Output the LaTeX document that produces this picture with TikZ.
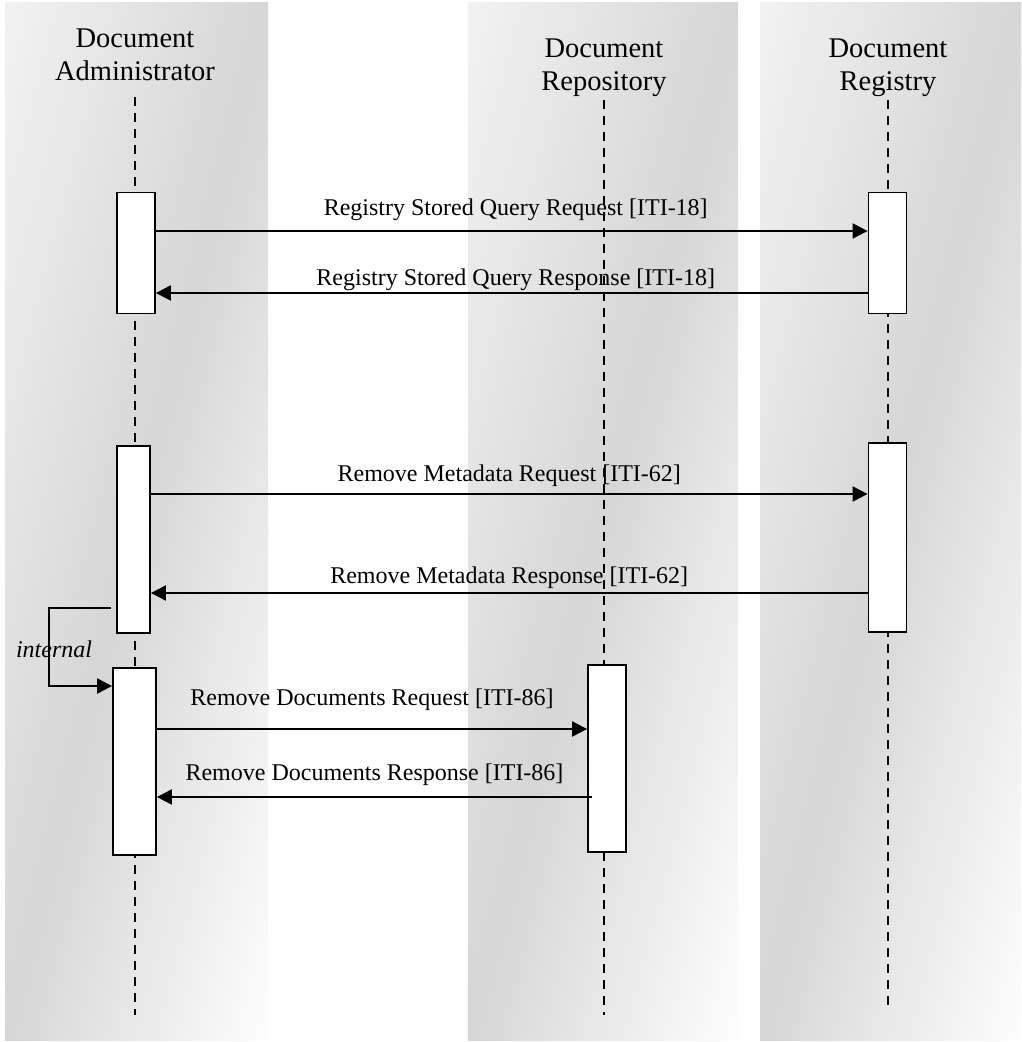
\documentclass[tikz,border=0pt]{standalone}
\usepackage{fontspec}
\setmainfont{Liberation Serif}
\usetikzlibrary{positioning, arrows.meta}
\usetikzlibrary{backgrounds}
\definecolor{colLight}{gray}{0.95}
\definecolor{colDark}{gray}{0.84}
\definecolor{colPale}{gray}{0.995}
\tikzset{
    column/.style={left color=colLight, right color=colPale, middle color=colDark},
    head/.style={align=center, inner sep=0pt, anchor=north, font=\fontsize{14.25}{16.5}\selectfont},
    lifeline/.style={line width=0.7pt, dash pattern=on 4.5pt off 3.5pt},
    act/.style={draw, fill=white, line width=0.9pt, inner sep=0pt, minimum width=19pt},
    msg/.style={line width=1pt, -{Triangle[length=7.5pt,width=7.5pt]}},
    lbl/.style={inner sep=0pt, anchor=base, font=\fontsize{12}{14}\selectfont},
  }

\begin{document}
\begin{tikzpicture}[x=0.5pt, y=-0.5pt]
	\pgfmathsetmacro\lifeend{1015}
	\pgfmathsetmacro\colh{1037}
	\pgfmathsetmacro\colmid{521.5}
	\useasboundingbox (0,0) rectangle (1021,1042);

	% shaded columns, gradient runs corner to corner
	\foreach \xa/\xb in {5/268, 468/738, 760/1021}{
		\pgfmathsetmacro\w{\xb-\xa}
		\pgfmathsetmacro\cx{(\xa+\xb)/2}
		\pgfmathsetmacro\ang{atan(\w/\colh)}
		\pgfmathsetmacro\ext{200*(\w/100)*(\colh/100)/veclen(\w/100,\colh/100)}
		\begin{scope}
			\clip (\xa,3) rectangle (\xb,1040);
			\begin{scope}[transform canvas={rotate around={-\ang:(\cx,\colmid)}}]
				\shade[column] ({\cx-\ext/2},{\colmid-600}) rectangle ({\cx+\ext/2},{\colmid+600});
			\end{scope}
		\end{scope}
	}

	\node[head] (admin) at (135,28) {Document\\Administrator};
	\node[head] (repos) at (604,38) {Document\\Repository};
	\node[head] (regis) at (888,38) {Document\\Registry};

	\draw[lifeline] (admin.south |- 0,97) -- (admin.south |- 0,\lifeend);
	\draw[lifeline] (repos.south |- 0,100) -- (repos.south |- 0,\lifeend);
	\draw[lifeline] (regis.south |- 0,100) -- (regis.south |- 0,1007);

	% activation boxes
	\node[act, minimum height=60.5pt] (adm1) at (136,253) {};
	\node[act, minimum height=60.5pt] (reg1) at (887.5,253) {};
	\node[act, minimum width=16.5pt, minimum height=93.5pt] (adm2) at (133.5,539.5) {};
	\node[act, minimum height=94.5pt] (reg2) at (887.5,537.5) {};
	\node[act, minimum width=21.5pt, minimum height=93.5pt] (adm3) at (134.5,761.5) {};
	\node[act, minimum height=93.5pt] (repo) at (607,758.5) {};

	\draw[msg] (adm1.east |- 0,231) -- (reg1.west |- 0,231) node[midway, lbl, xshift=2pt, yshift=7.5pt] {Registry Stored Query Request [ITI-18]};
	\draw[msg] (reg1.west |- 0,293) -- (adm1.east |- 0,293) node[midway, lbl, xshift=2pt, yshift=3.5pt] {Registry Stored Query Response [ITI-18]};
	\draw[msg] (adm2.east |- 0,494) -- (reg2.west |- 0,494) node[midway, lbl, yshift=6.5pt] {Remove Metadata Request [ITI-62]};
	\draw[msg] (reg2.west |- 0,593) -- (adm2.east |- 0,593) node[midway, lbl, yshift=5pt] {Remove Metadata Response [ITI-62]};

	% internal step
	\draw[msg] ([xshift=-2.5pt]adm2.west |- 0,608) -| (49,686) -- (adm3.west |- 0,686);
	\node[lbl, font=\fontsize{12}{14}\selectfont\itshape] (intl) at (54,657) {internal};

	\draw[msg] (adm3.east |- 0,729) -- (repo.west |- 0,729) node[midway, lbl, yshift=12pt] {Remove Documents Request [ITI-86]};
	\draw[msg] ([xshift=2.5pt]repo.west |- 0,797) -- (adm3.east |- 0,797) node[midway, lbl, yshift=8.5pt] {Remove Documents Response [ITI-86]};
\end{tikzpicture}
\end{document}
